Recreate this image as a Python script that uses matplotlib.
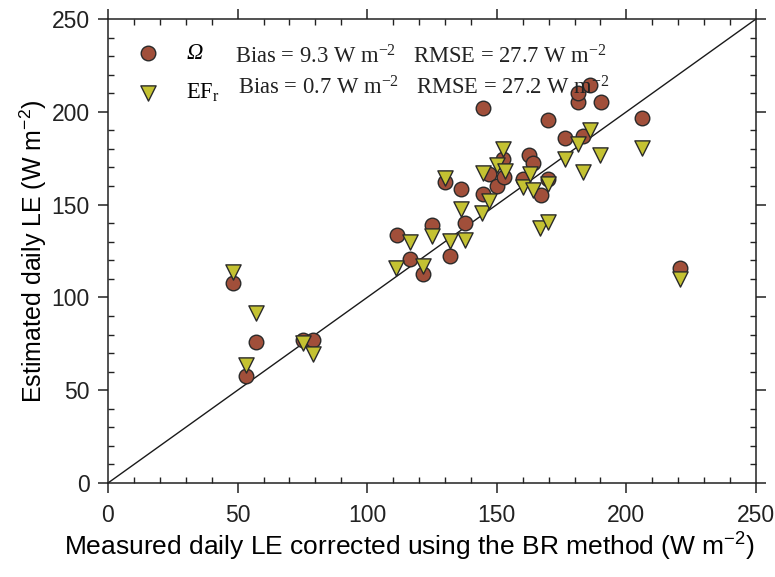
import matplotlib
matplotlib.use("Agg")
import matplotlib.pyplot as plt
from matplotlib.ticker import MultipleLocator

# ---- data ----
omega_x = [48.2, 53.2, 57.1, 75.2, 79.1, 111.5, 116.5, 121.5, 125.0, 130.0, 131.9,
           136.2, 137.7, 144.7, 144.7, 147.0, 150.1, 152.4, 152.8, 160.1, 162.4,
           164.0, 167.1, 169.8, 169.8, 176.3, 181.3, 181.3, 183.3, 186.0, 190.2,
           206.0, 220.7]
omega_y = [108.0, 57.7, 76.0, 77.0, 77.0, 133.6, 120.7, 112.6, 139.0, 162.2, 122.3,
           158.4, 140.1, 155.7, 202.0, 166.5, 160.0, 174.6, 164.9, 163.8, 176.7,
           172.4, 155.2, 163.8, 195.6, 185.9, 205.5, 210.0, 187.0, 214.4, 205.3,
           196.7, 115.8]

efr_x = [48.2, 53.2, 57.1, 75.2, 79.1, 111.1, 116.5, 121.5, 125.0, 130.0, 131.9,
         136.2, 137.7, 144.3, 144.7, 147.0, 150.1, 152.4, 153.2, 160.1, 162.8,
         164.0, 166.7, 169.8, 169.8, 176.3, 181.3, 183.3, 186.0, 189.8, 206.0,
         220.7]
efr_y = [113.7, 63.6, 91.6, 75.4, 69.5, 115.8, 129.8, 116.9, 133.1, 164.3, 130.4,
         147.6, 130.9, 145.5, 167.0, 151.9, 171.3, 180.0, 168.1, 159.5, 166.5,
         157.9, 137.4, 161.1, 140.6, 174.6, 182.6, 167.6, 190.2, 176.7, 180.5,
         109.9]

series_names = ["\u03A9", "EF$_r$"]
bias_labels = ["Bias = 9.3 W m$^{-2}$", "Bias = 0.7 W m$^{-2}$"]
rmse_labels = ["RMSE = 27.7 W m$^{-2}$", "RMSE = 27.2 W m$^{-2}$"]
axis_range = [0, 250]
ticks = [0, 50, 100, 150, 200, 250]

plt.rcParams['font.family'] = ['Liberation Sans', 'DejaVu Sans']
plt.rcParams['mathtext.default'] = 'regular'

fig = plt.figure(figsize=(7.75, 5.77), dpi=100)
ax = fig.add_axes([108/775, (577-483)/577, (756-108)/775, (483-19)/577])

ax.plot(axis_range, axis_range, color='#1a1a1a', lw=1.0, zorder=1)

c_omega = '#a14f3a'
c_efr = '#c4c232'
sc1 = ax.scatter(omega_x, omega_y, s=110, marker='o', facecolor=c_omega,
                 edgecolor='#2a2a2a', linewidth=1.0, zorder=3)
sc2 = ax.scatter(efr_x, efr_y, s=120, marker='v', facecolor=c_efr,
                 edgecolor='#2a2a2a', linewidth=1.0, zorder=4)

ax.set_xlim(axis_range)
ax.set_ylim(axis_range)
ax.set_xticks(ticks)
ax.set_yticks(ticks)
ax.xaxis.set_minor_locator(MultipleLocator(10))
ax.yaxis.set_minor_locator(MultipleLocator(10))
ax.tick_params(which='major', direction='out', length=7, width=1.1,
               top=True, right=True, labelsize=16.5, colors='#222222')
ax.tick_params(axis='x', which='major', pad=8)
ax.tick_params(axis='y', which='major', pad=6)
ax.tick_params(which='minor', direction='in', length=4.5, width=1.0,
               top=True, right=True, colors='#222222')
for s in ax.spines.values():
    s.set_linewidth(1.1)
    s.set_color('#222222')

ax.set_xlabel("Measured daily LE corrected using the BR method (W m$^{-2}$)",
              fontsize=19, labelpad=3)
ax.xaxis.label.set_x((409 - 108) / 648)
ax.set_ylabel("Estimated daily LE (W m$^{-2}$)", fontsize=18, labelpad=2)

serif = {'family': ['Liberation Serif', 'DejaVu Serif'], 'size': 16.3}
leg = ax.legend([sc1, sc2], series_names, prop=serif, frameon=False,
                loc='upper left', bbox_to_anchor=(0.0448, 0.948),
                borderaxespad=0, borderpad=0, handlelength=1.0,
                handletextpad=1.17, labelspacing=0.78, scatterpoints=1)
leg.get_texts()[0].set_style('italic')

rows_y = [0.905, 0.838]
bias_x = [0.196, 0.2006]
rmse_x = [0.4707, 0.4753]
for i in range(2):
    ax.text(bias_x[i], rows_y[i], bias_labels[i], transform=ax.transAxes,
            fontdict=serif, va='baseline', ha='left', color='#222222')
    ax.text(rmse_x[i], rows_y[i], rmse_labels[i], transform=ax.transAxes,
            fontdict=serif, va='baseline', ha='left', color='#222222')

fig.savefig("out.png", dpi=100)
